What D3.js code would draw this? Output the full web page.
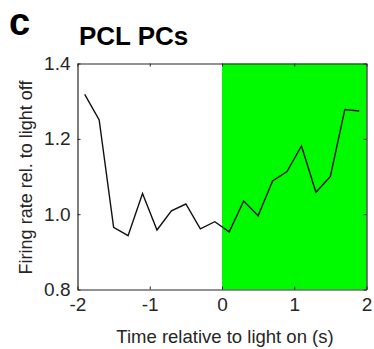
<!DOCTYPE html>
<html>
<head>
<meta charset="utf-8">
<script src="https://cdn.jsdelivr.net/npm/d3@7"></script>
<style>
  body { margin: 0; background: #fff; }
  svg { display: block; font-family: "Liberation Sans", Arial, sans-serif; }
</style>
</head>
<body>
<div id="chart"></div>
<script>
// bin centres (s) and firing rate relative to light off
var times = [-1.9, -1.7, -1.5, -1.3, -1.1, -0.9, -0.7, -0.5, -0.3, -0.1,
             0.1, 0.3, 0.5, 0.7, 0.9, 1.1, 1.3, 1.5, 1.7, 1.9];
var rates = [1.318, 1.25, 0.965, 0.943, 1.055, 0.958, 1.009, 1.027, 0.961, 0.98,
             0.953, 1.035, 0.996, 1.088, 1.113, 1.181, 1.058, 1.10, 1.278, 1.274];
var xTicks = [-2, -1, 0, 1, 2];
var yTicks = [0.8, 1.0, 1.2, 1.4];
var lightOn = [0, 2];

var width = 374, height = 349;
var plotLeft = 77.5, plotRight = 366.5, plotTop = 63.5, plotBottom = 289.5;
var axisColor = "#262626";

var svg = d3.select("#chart").append("svg")
    .attr("width", width)
    .attr("height", height);

var x = d3.scaleLinear().domain([-2, 2]).range([plotLeft, plotRight]);
var y = d3.scaleLinear().domain([0.8, 1.4]).range([plotBottom, plotTop]);

// light on period
svg.append("rect")
    .attr("x", x(lightOn[0]))
    .attr("y", y(1.4))
    .attr("width", x(lightOn[1]) - x(lightOn[0]))
    .attr("height", y(0.8) - y(1.4))
    .attr("fill", "#00fa00");

var line = d3.line()
    .x(function (d, i) { return x(times[i]); })
    .y(function (d) { return y(d); });

svg.append("path")
    .datum(rates)
    .attr("d", line)
    .attr("fill", "none")
    .attr("stroke", "#111")
    .attr("stroke-width", 1.4)
    .attr("stroke-linejoin", "miter");

function styleAxis(g) {
    g.select(".domain").attr("stroke", axisColor).attr("stroke-width", 1.2);
    g.selectAll(".tick line").attr("stroke", axisColor).attr("stroke-width", 1);
    g.selectAll("text").attr("fill", axisColor).attr("font-family", "Liberation Sans, Arial, sans-serif");
}

// MATLAB style box with inward ticks
svg.append("g")
    .attr("transform", "translate(0," + plotBottom + ")")
    .call(d3.axisBottom(x).tickValues(xTicks).tickSizeInner(-3).tickSizeOuter(0).tickPadding(8)
        .tickFormat(function (d) { return String(d); }))
    .call(styleAxis)
    .selectAll("text").attr("font-size", 19).attr("dy", "0.72em");

svg.append("g")
    .attr("transform", "translate(0," + plotTop + ")")
    .call(d3.axisTop(x).tickValues(xTicks).tickSizeInner(-3).tickSizeOuter(0).tickFormat(""))
    .call(styleAxis);

svg.append("g")
    .attr("transform", "translate(" + plotLeft + ",0)")
    .call(d3.axisLeft(y).tickValues(yTicks).tickSizeInner(-3).tickSizeOuter(0).tickPadding(7)
        .tickFormat(d3.format(".1f")))
    .call(styleAxis)
    .selectAll("text").attr("font-size", 19);

svg.append("g")
    .attr("transform", "translate(" + plotRight + ",0)")
    .call(d3.axisRight(y).tickValues(yTicks).tickSizeInner(-3).tickSizeOuter(0).tickFormat(""))
    .call(styleAxis);

// labels
svg.append("text")
    .attr("x", (plotLeft + plotRight) / 2 + 3)
    .attr("y", 343)
    .attr("text-anchor", "middle")
    .attr("font-size", 18.5)
    .attr("fill", axisColor)
    .text("Time relative to light on (s)");

svg.append("text")
    .attr("transform", "translate(32,177.5) rotate(-90)")
    .attr("text-anchor", "middle")
    .attr("font-size", 18)
    .attr("fill", axisColor)
    .text("Firing rate rel. to light off");

svg.append("text")
    .attr("x", 79)
    .attr("y", 45)
    .attr("font-size", 26)
    .attr("font-weight", "bold")
    .attr("fill", "#000")
    .text("PCL PCs");

svg.append("text")
    .attr("x", 9)
    .attr("y", 35)
    .attr("font-size", 38)
    .attr("font-weight", "bold")
    .attr("fill", "#000")
    .text("c");
</script>
</body>
</html>
